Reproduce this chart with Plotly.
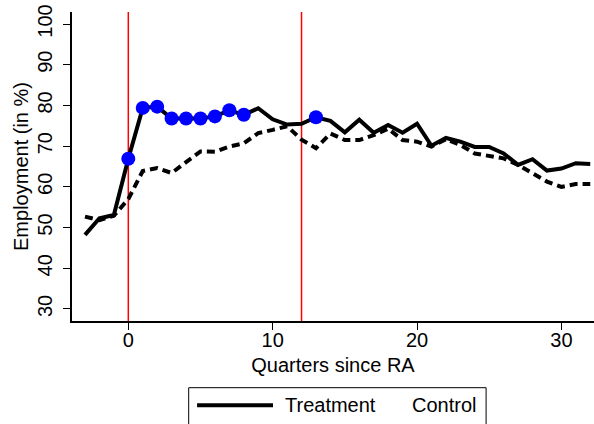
import plotly.graph_objects as go

quarters = list(range(-3, 33))
treatment = [48.2, 52.3, 53.1, 66.9, 79.4, 79.7, 76.8, 76.8, 76.8, 77.3, 78.8, 77.7,
             79.3, 76.6, 75.3, 75.5, 77.1, 76.2, 73.4, 76.5, 73.3, 75.2, 73.3, 75.5,
             70.1, 72.0, 71.1, 69.8, 69.8, 68.2, 65.4, 66.8, 64.0, 64.5, 65.8, 65.6]
control = [52.7, 51.8, 52.9, 57.0, 63.9, 64.6, 63.4, 66.2, 68.7, 68.6, 69.9, 70.7,
           73.2, 74.0, 74.9, 71.6, 69.5, 73.1, 71.5, 71.5, 72.7, 74.3, 71.5, 71.1,
           69.9, 71.7, 70.3, 68.2, 67.6, 67.0, 65.4, 63.3, 61.3, 60.0, 60.7, 60.7]
highlight_q = [0, 1, 2, 3, 4, 5, 6, 7, 8, 13]
event_lines = [0, 12]
x_ticks = [0, 10, 20, 30]
y_ticks = [30, 40, 50, 60, 70, 80, 90, 100]

hl_y = [treatment[quarters.index(q)] for q in highlight_q]

FONT = "Liberation Sans, Arial, sans-serif"

fig = go.Figure()
fig.add_trace(go.Scatter(x=quarters, y=control, mode="lines",
                         line=dict(color="black", width=4, dash="8px,5px"),
                         showlegend=False))
fig.add_trace(go.Scatter(x=quarters, y=treatment, mode="lines",
                         line=dict(color="black", width=4), showlegend=False))
fig.add_trace(go.Scatter(x=highlight_q, y=hl_y, mode="markers",
                         marker=dict(color="#0000FF", size=14), showlegend=False))

for q in event_lines:
    fig.add_shape(type="line", xref="x", yref="paper", x0=q, x1=q, y0=0, y1=1,
                  line=dict(color="red", width=1.5), layer="below")

# plot area geometry (pixels)
L, R, T, B = 71.5, 594, 12, 321.5
W, H = R - L, B - T


def px(xp):
    return (xp - L) / W


def py(yp):
    return (B - yp) / H


# legend box
fig.add_shape(type="rect", xref="paper", yref="paper",
              x0=px(188.3), x1=px(486), y0=py(388.3), y1=py(440),
              line=dict(color="black", width=1), fillcolor="white")
fig.add_shape(type="line", xref="paper", yref="paper",
              x0=px(196.7), x1=px(272.7), y0=py(406), y1=py(406),
              line=dict(color="black", width=4))
fig.add_annotation(text="Treatment", xref="paper", yref="paper", x=px(283), y=py(406),
                   xanchor="left", yanchor="middle", showarrow=False,
                   font=dict(family=FONT, size=20, color="black"))
fig.add_annotation(text="Control", xref="paper", yref="paper", x=px(410), y=py(406),
                   xanchor="left", yanchor="middle", showarrow=False,
                   font=dict(family=FONT, size=20, color="black"))

fig.update_layout(
    width=594, height=424,
    margin=dict(l=L, r=0, t=T, b=424 - B),
    paper_bgcolor="white", plot_bgcolor="white",
    font=dict(family=FONT, size=20, color="black"),
    xaxis=dict(range=[-3.9, 32.26], tickvals=x_ticks, showgrid=False, zeroline=False,
               showline=True, linecolor="black", linewidth=1.5,
               ticks="outside", ticklen=7, tickcolor="black",
               tickfont=dict(size=20), ticklabelstandoff=-7,
               title=dict(text="Quarters since RA", font=dict(size=20), standoff=8)),
    yaxis=dict(range=[27.05, 102.95], tickvals=y_ticks, showgrid=False, zeroline=False,
               showline=True, linecolor="black", linewidth=1.5,
               ticks="outside", ticklen=7, tickcolor="black",
               tickangle=-90, tickfont=dict(size=20), ticklabelstandoff=3,
               title=dict(text="Employment (in %)", font=dict(size=20), standoff=0)),
)

fig.write_html("out.html")
